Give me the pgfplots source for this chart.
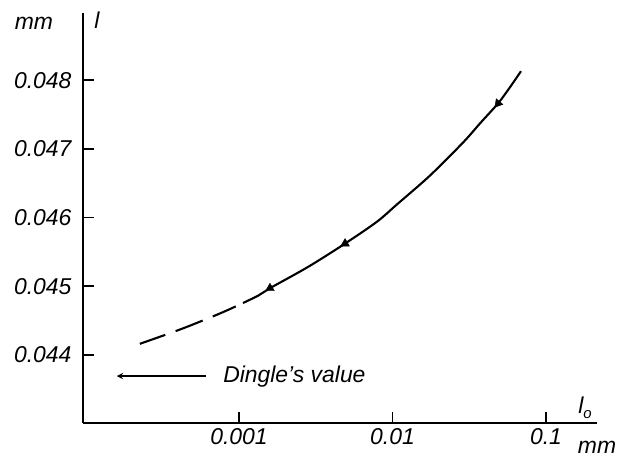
\documentclass[border=0pt]{standalone}
\usepackage{fontspec}
\setmainfont{Liberation Sans}
\usepackage{pgfplots}
\pgfplotsset{compat=1.18}
\newcommand{\lf}{\fontsize{23}{27}\selectfont\itshape}
\begin{document}
\begin{tikzpicture}[x=1bp,y=1bp]
\useasboundingbox (0,0) rectangle (618,459);
\begin{axis}[
  at={(83bp,36bp)}, anchor=south west,
  scale only axis, width=514bp, height=410bp,
  xmode=log, log basis x=10,
  xmin=9.64e-5, xmax=0.2148,
  ymin=0.043007, ymax=0.048978,
  axis lines=left, axis line style={-, line width=2.2bp},
  xtick={0.001,0.01,0.1}, xticklabels={0.001,0.01,0.1},
  ytick={0.044,0.045,0.046,0.047,0.048},
  yticklabels={0.044,0.045,0.046,0.047,0.048},
  scaled y ticks=false, xminorticks=false, yminorticks=false,
  tick align=inside, major tick length=11bp,
  tick style={black, line width=1.8bp},
  tick label style={font=\lf},
  yticklabel style={xshift=-8bp},
  xticklabel style={yshift=-2bp},
  clip=false,
]
\addplot[black, line width=2.1bp, smooth,
  dash pattern=on 27bp off 11bp on 29bp off 11bp on 25bp off 8bp on 2000bp off 0bp]
  coordinates {(2.26e-4,0.04416) (4.26e-4,0.04438) (7.94e-4,0.044625) (1.33e-3,0.04486)
  (1.592e-3,0.04497) (2.818e-3,0.04528) (4.91e-3,0.04562) (7.94e-3,0.04594)
  (0.01069,0.04619) (0.01754,0.04661) (0.02877,0.04709) (0.03715,0.04737)
  (0.04864,0.04766) (0.05754,0.04788) (0.06871,0.04813)};
\addplot[only marks, mark=triangle*, mark size=5bp, mark options={rotate=120, fill=black, draw=black}]
  coordinates {(1.592e-3,0.04497) (4.91e-3,0.04562)};
\addplot[only marks, mark=triangle*, mark size=5bp, mark options={rotate=140, fill=black, draw=black}]
  coordinates {(0.04864,0.04766)};
\draw[->, >=stealth, line width=1.8bp] (axis cs:6.1e-4,0.04369) -- (axis cs:1.6e-4,0.04369);
\node[anchor=west, font=\lf] at (axis cs:7.5e-4,0.04369) {Dingle's value};
\end{axis}
\node[font=\lf] at (34,436) {mm};
\node[font=\lf] at (97,439) {l};
\node[font=\lf] at (585,51) {l\raisebox{-0.4ex}{\fontsize{15}{17}\selectfont o}};
\node[font=\lf] at (597,12) {mm};
\end{tikzpicture}
\end{document}
